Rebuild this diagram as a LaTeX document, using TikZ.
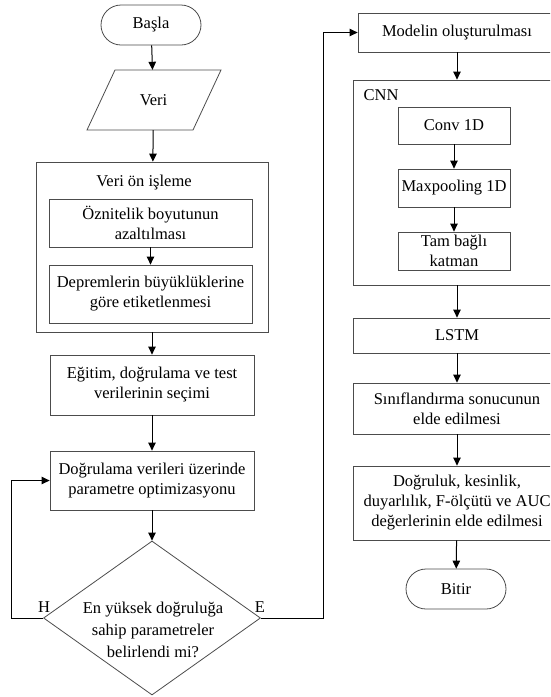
\documentclass[tikz,border=0pt]{standalone}
\usepackage{fontspec}
\setmainfont{Liberation Serif}
\usetikzlibrary{shapes.geometric,arrows.meta}
\begin{document}
\begin{tikzpicture}[x=1pt,y=-1pt,
  txt/.style={font=\fontsize{16.5}{20}\selectfont, align=center, inner sep=0pt},
  box/.style={txt, draw=black!70, line width=0.8pt, fill=white},
  term/.style={box, rounded corners=20pt},
  frame/.style={draw=black!70, line width=0.8pt, inner sep=0pt},
  arr/.style={-{Triangle[length=8pt,width=7.5pt]}, line width=1pt, black},
  ln/.style={line width=1pt, black}]
\useasboundingbox (0,0) rectangle (550,697);
\begin{scope}
\clip (0,0) rectangle (550,697);
% left column
\node[term, minimum width=100pt, minimum height=40pt] (start) at (151,25) {Başla};
\node[txt, minimum width=106pt, minimum height=60pt] (veri) at (153.5,100) {Veri};
\draw[draw=black!70, line width=0.8pt] (115,70) -- (221,70) -- (193,130) -- (87,130) -- cycle;
\node[frame, minimum width=232pt, minimum height=170pt] (pre) at (152,247) {};
\node[txt] (prelbl) at (144,183) {Veri ön işleme};
\node[box, minimum width=203pt, minimum height=48pt] (ozn) at (150.5,223) {Öznitelik boyutunun\\azaltılması};
\node[box, minimum width=203pt, minimum height=58pt] (dep) at (150.5,294) {Depremlerin büyüklüklerine\\göre etiketlenmesi};
\node[box, minimum width=204pt, minimum height=60pt] (egit) at (152,385) {Eğitim, doğrulama ve test\\verilerinin seçimi};
\node[box, minimum width=204pt, minimum height=59pt] (dogr) at (152,480.5) {Doğrulama verileri üzerinde\\parametre optimizasyonu};
\node[draw=black!70, line width=0.8pt, diamond, minimum width=217pt, minimum height=154pt, inner sep=0pt] (dec) at (152,618) {};
\node[txt, font=\fontsize{16.5}{22}\selectfont] (dectxt) at (153,630) {En yüksek doğruluğa\\sahip parametreler\\belirlendi mi?};
\node[txt] (hlbl) at (44,607) {H};
\node[txt] (elbl) at (260,607) {E};
% right column
\node[box, minimum width=198pt, minimum height=39pt] (model) at (457,32.5) {Modelin oluşturulması};
\node[frame, minimum width=208pt, minimum height=205pt] (cnn) at (457,182.5) {};
\node[txt] (cnnlbl) at (381,95) {CNN};
\node[box, minimum width=112pt, minimum height=37pt] (conv) at (454,125.5) {Conv 1D};
\node[box, minimum width=112pt, minimum height=38pt] (maxp) at (454,188) {Maxpooling 1D};
\node[box, minimum width=112pt, minimum height=38pt] (tam) at (454,251) {Tam bağlı\\katman};
\node[box, minimum width=208pt, minimum height=35pt] (lstm) at (457,335.5) {LSTM};
\node[box, minimum width=208pt, minimum height=51pt] (sinif) at (457,408.5) {Sınıflandırma sonucunun\\elde edilmesi};
\node[box, minimum width=208pt, minimum height=74pt] (metr) at (457,503) {Doğruluk, kesinlik,\\duyarlılık, F-ölçütü ve AUC\\değerlerinin elde edilmesi};
\node[term, minimum width=100pt, minimum height=40pt] (end) at (456,589) {Bitir};
% connectors
\draw[arr] (start) -- (veri);
\draw[arr] (veri) -- (pre);
\draw[arr] (ozn) -- (dep);
\draw[arr] (pre) -- (egit);
\draw[arr] (egit) -- (dogr);
\draw[arr] (dogr) -- (dec);
\draw[arr] (dec.west) -- ++(-31.5,0) |- (dogr.west);
\draw[arr] (dec.east) -- ++(62.5,0) |- (model.west);
\draw[arr] (model) -- (cnn);
\draw[arr] (conv) -- (maxp);
\draw[arr] (maxp) -- (tam);
\draw[arr] (cnn) -- (lstm);
\draw[arr] (lstm) -- (sinif);
\draw[arr] (sinif) -- (metr);
\draw[arr] (metr) -- (end);
\end{scope}
\end{tikzpicture}
\end{document}
